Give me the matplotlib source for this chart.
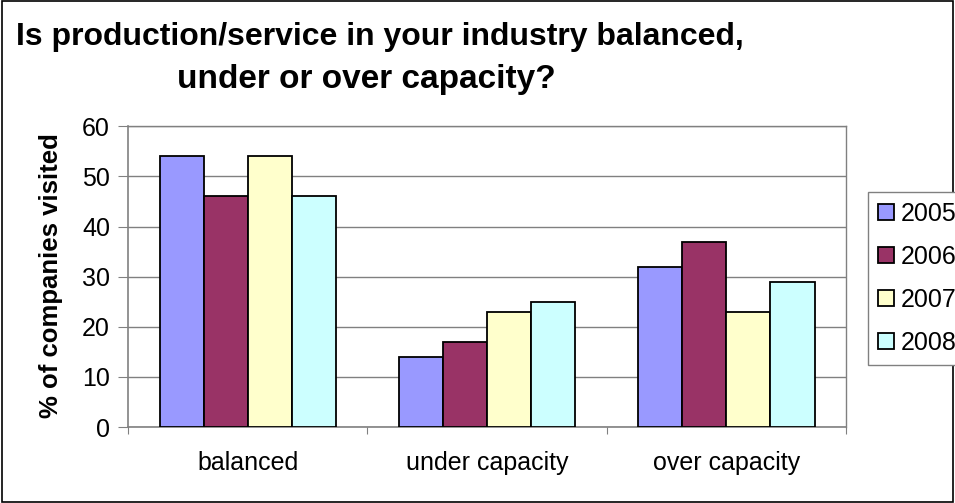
import numpy as np
import matplotlib.pyplot as plt
from matplotlib.patches import Rectangle

# Survey answers per year, percent of companies visited
categories = ["balanced", "under capacity", "over capacity"]
years = ["2005", "2006", "2007", "2008"]
v2005 = [54, 14, 32]
v2006 = [46, 17, 37]
v2007 = [54, 23, 23]
v2008 = [46, 25, 29]
series = [v2005, v2006, v2007, v2008]
colors = ["#9999FF", "#993366", "#FFFFCC", "#CCFFFF"]

plt.rcParams["font.family"] = ["Liberation Sans", "DejaVu Sans"]

fig = plt.figure(figsize=(9.55, 5.03), dpi=100)
ax = fig.add_axes([0.134, 0.151, 0.752, 0.598])

x = np.arange(len(categories))
w = 0.184
for i, (vals, c) in enumerate(zip(series, colors)):
    ax.bar(x + (i - 1.5) * w, vals, w, color=c, edgecolor="black",
           linewidth=1.3, label=years[i], zorder=3)

ax.set_xlim(-0.5, 2.5)
ax.set_ylim(0, 60)
ax.set_yticks(range(0, 61, 10))
ax.yaxis.grid(True, color="#808080", linewidth=1, zorder=0)

# category ticks sit between groups, labels centred under them
ax.set_xticks([-0.5, 0.5, 1.5, 2.5])
ax.set_xticklabels([])
ax.set_xticks(x, minor=True)
ax.set_xticklabels(categories, minor=True, fontsize=18)
ax.tick_params(axis="x", which="minor", length=0, pad=17)
ax.tick_params(axis="x", which="major", length=5, color="#808080")
ax.tick_params(axis="y", labelsize=18, length=7, pad=6, color="#808080")

for s in ["left", "bottom"]:
    ax.spines[s].set_color("#808080")
    ax.spines[s].set_linewidth(1.2)
for s in ["top", "right"]:
    ax.spines[s].set_color("#808080")
    ax.spines[s].set_linewidth(1)

fig.text(51 / 955, 1 - 276 / 503, "% of companies visited", rotation=90,
         fontsize=18.5, fontweight="bold", ha="center", va="center")

fig.text(16 / 955, 1 - 45 / 503, "Is production/service in your industry balanced,",
         fontsize=23, fontweight="bold", ha="left", va="baseline")
fig.text(366 / 955, 1 - 88 / 503, "under or over capacity?",
         fontsize=24, fontweight="bold", ha="center", va="baseline")

handles = [Rectangle((0, 0), 1, 1, facecolor=c, edgecolor="black", linewidth=1.3)
           for c in colors]
leg = fig.legend(handles, years, loc="upper left",
                 bbox_to_anchor=(868 / 955, 1 - 192 / 503), fontsize=18,
                 handlelength=0.62, handleheight=0.58, handletextpad=0.3,
                 labelspacing=0.76, borderpad=0.4, borderaxespad=0,
                 fancybox=False, edgecolor="#808080", framealpha=1)
leg.get_frame().set_linewidth(1)

# outer chart border
fig.patches.append(Rectangle((0.002, 0.002), 0.996, 0.996, transform=fig.transFigure,
                             fill=False, edgecolor="black", linewidth=1.2))

fig.savefig("out.png", dpi=100)
